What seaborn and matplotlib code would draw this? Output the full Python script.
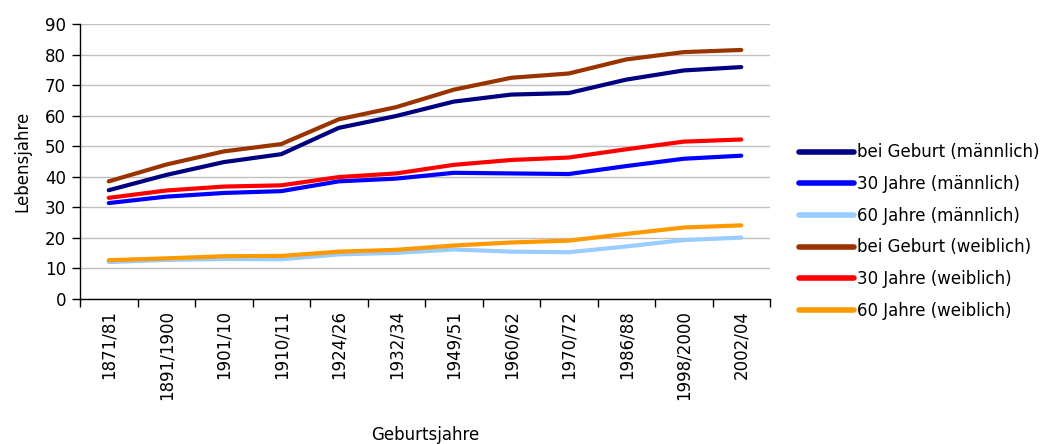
import matplotlib
matplotlib.use("Agg")
import matplotlib.pyplot as plt
import seaborn as sns
import pandas as pd
import numpy as np
from matplotlib.ticker import FixedLocator

categories = ["1871/81", "1891/1900", "1901/10", "1910/11", "1924/26", "1932/34",
              "1949/51", "1960/62", "1970/72", "1986/88", "1998/2000", "2002/04"]
m_birth = [35.6, 40.6, 44.8, 47.4, 56.0, 59.9, 64.6, 66.9, 67.4, 71.8, 74.8, 75.9]
m_30 = [31.4, 33.5, 34.7, 35.3, 38.5, 39.4, 41.3, 41.1, 40.9, 43.5, 45.9, 46.9]
m_60 = [12.1, 12.8, 13.1, 13.0, 14.6, 15.1, 16.2, 15.5, 15.3, 17.2, 19.3, 20.1]
w_birth = [38.5, 44.0, 48.3, 50.7, 58.8, 62.8, 68.5, 72.4, 73.8, 78.4, 80.8, 81.5]
w_30 = [33.1, 35.5, 36.8, 37.2, 39.9, 41.1, 43.9, 45.5, 46.3, 49.0, 51.5, 52.2]
w_60 = [12.7, 13.3, 14.0, 14.1, 15.5, 16.1, 17.5, 18.5, 19.1, 21.3, 23.4, 24.1]

series_names = ["bei Geburt (männlich)", "30 Jahre (männlich)", "60 Jahre (männlich)",
                "bei Geburt (weiblich)", "30 Jahre (weiblich)", "60 Jahre (weiblich)"]
series_vals = [m_birth, m_30, m_60, w_birth, w_30, w_60]
colors = ["#000080", "#0000FF", "#99CCFF", "#993300", "#FF0000", "#FF9900"]

rows = []
for name, vals in zip(series_names, series_vals):
    for i, v in enumerate(vals):
        rows.append({"x": i, "Serie": name, "Wert": v})
df = pd.DataFrame(rows)

sns.set_theme(style="white")
plt.rcParams["font.family"] = ["DejaVu Sans"]
plt.rcParams["text.color"] = "black"
plt.rcParams["axes.labelcolor"] = "black"
plt.rcParams["xtick.color"] = "black"
plt.rcParams["ytick.color"] = "black"

fig = plt.figure(figsize=(10.55, 4.44), dpi=100)
ax = fig.add_axes([80/1055, 1-299/444, (770-80)/1055, (299-24)/444])

sns.lineplot(data=df, x="x", y="Wert", hue="Serie", hue_order=series_names,
             palette=colors, linewidth=3, ax=ax, legend=True,
             solid_capstyle="round")

ax.set_xlim(-0.5, len(categories) - 0.5)
ax.set_ylim(0, 90)
ax.set_yticks(np.arange(0, 91, 10))
ax.yaxis.grid(True, color="#C0C0C0", linewidth=1)
ax.set_axisbelow(True)
ax.set_xticks(range(len(categories)))
ax.set_xticklabels(categories, rotation=90, fontsize=12)
ax.tick_params(axis="x", which="major", length=0, pad=8)
ax.xaxis.set_minor_locator(FixedLocator(np.arange(-0.5, len(categories), 1.0)))
ax.tick_params(axis="x", which="minor", length=6, width=1, color="black", bottom=True)
ax.tick_params(axis="y", length=6, width=1, color="black", left=True, labelsize=12, pad=4)
for s in ["top", "right"]:
    ax.spines[s].set_visible(False)
for s in ["left", "bottom"]:
    ax.spines[s].set_color("black")
    ax.spines[s].set_linewidth(1)
ax.set_xlabel("Geburtsjahre", fontsize=12)
ax.xaxis.set_label_coords(0.5, -0.46)
ax.set_ylabel("Lebensjahre", fontsize=12, labelpad=10)

leg = ax.legend(loc="center left", bbox_to_anchor=(1.02, 0.245), frameon=False,
                fontsize=12, handlelength=3.3, handletextpad=0.2, labelspacing=0.82)
for h in leg.get_lines():
    h.set_linewidth(4)
for t in leg.get_texts():
    t.set_color("black")

fig.savefig("out.png", dpi=100)
